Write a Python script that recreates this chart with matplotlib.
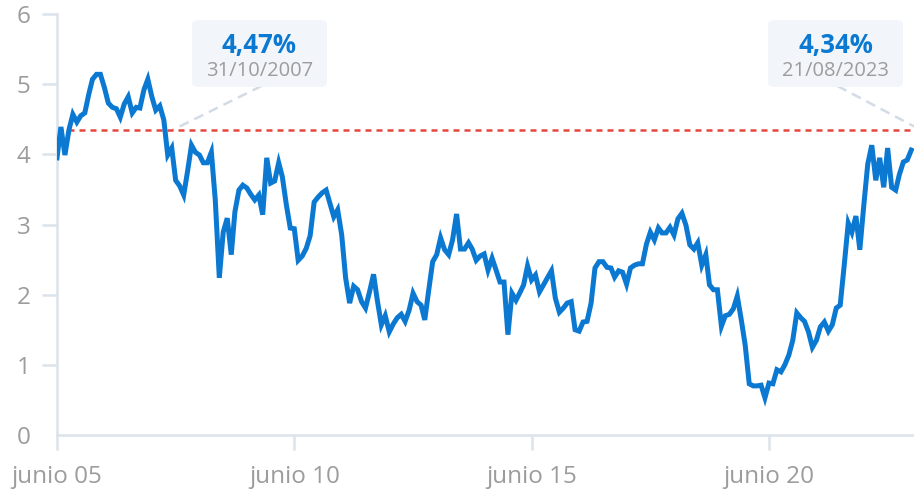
import matplotlib
matplotlib.use("Agg")
import matplotlib.pyplot as plt
import matplotlib.dates as mdates
from matplotlib.patches import FancyBboxPatch
import pandas as pd
import numpy as np

plt.rcParams['font.family'] = ['Open Sans', 'DejaVu Sans']

# Monthly yield (%) from June 2005
start_month = "2005-06-01"
yields = [
    3.95, 4.39, 3.99, 4.35, 4.57, 4.46, 4.55, 4.59, 4.86, 5.07,
    5.14, 5.14, 4.95, 4.73, 4.67, 4.65, 4.53, 4.72, 4.82, 4.59,
    4.67, 4.66, 4.92, 5.07, 4.82, 4.63, 4.69, 4.49, 3.99, 4.09,
    3.63, 3.55, 3.42, 3.75, 4.13, 4.03, 3.99, 3.88, 3.88, 4.03,
    3.35, 2.24, 2.89, 3.09, 2.57, 3.18, 3.49, 3.56, 3.52, 3.43,
    3.35, 3.42, 3.14, 3.95, 3.59, 3.62, 3.88, 3.68, 3.28, 2.95,
    2.94, 2.49, 2.55, 2.66, 2.84, 3.32, 3.39, 3.45, 3.49, 3.31,
    3.11, 3.21, 2.85, 2.24, 1.88, 2.12, 2.07, 1.90, 1.81, 2.04,
    2.29, 1.92, 1.57, 1.70, 1.47, 1.58, 1.67, 1.72, 1.62, 1.78,
    2.02, 1.90, 1.85, 1.64, 2.07, 2.47, 2.57, 2.81, 2.64, 2.57,
    2.78, 3.15, 2.65, 2.65, 2.74, 2.65, 2.49, 2.55, 2.58, 2.35,
    2.52, 2.35, 2.18, 2.18, 1.43, 2.02, 1.92, 2.02, 2.14, 2.41,
    2.21, 2.28, 2.04, 2.14, 2.24, 2.34, 1.95, 1.75, 1.81, 1.88,
    1.90, 1.50, 1.48, 1.61, 1.62, 1.88, 2.38, 2.47, 2.47, 2.39,
    2.38, 2.25, 2.34, 2.32, 2.15, 2.38, 2.42, 2.44, 2.44, 2.72,
    2.89, 2.78, 2.95, 2.88, 2.88, 2.96, 2.85, 3.08, 3.16, 2.99,
    2.71, 2.65, 2.74, 2.42, 2.57, 2.14, 2.07, 2.07, 1.55, 1.70,
    1.72, 1.80, 1.98, 1.64, 1.28, 0.73, 0.70, 0.70, 0.71, 0.53,
    0.74, 0.73, 0.93, 0.90, 1.00, 1.14, 1.35, 1.74, 1.67, 1.62,
    1.47, 1.25, 1.35, 1.54, 1.61, 1.48, 1.57, 1.81, 1.85, 2.42,
    3.02, 2.89, 3.12, 2.64, 3.28, 3.86, 4.13, 3.63, 3.95, 3.53,
    4.09, 3.53, 3.49, 3.71, 3.89, 3.92, 4.06,
]
threshold = 4.34
annot_values = ["4,47%", "4,34%"]
annot_dates = ["31/10/2007", "21/08/2023"]
annot_points = ["2007-10-31", "2023-08-21"]
tick_dates = ["2005-06-01", "2010-06-01", "2015-06-01", "2020-06-01"]
tick_labels = ["junio 05", "junio 10", "junio 15", "junio 20"]
y_ticks = [0, 1, 2, 3, 4, 5, 6]

dates = pd.date_range(start_month, periods=len(yields), freq="MS")

W, H = 914, 492
fig = plt.figure(figsize=(W / 100, H / 100), dpi=100)
ax = fig.add_axes([57 / W, 1 - 435 / H, 1 - 57 / W, (435 - 14) / H])

axis_col = "#dbe3eb"
lab_col = "#9c9c9c"
blue = "#0b79d1"

ax.plot(dates, yields, color=blue, lw=3.6, solid_joinstyle="miter", zorder=3)
ax.axhline(threshold, color="#e5473c", lw=1.8, ls=(0, (2.4, 2.0)), zorder=2)

ax.set_ylim(0, 6)
ax.set_xlim(pd.Timestamp(start_month), pd.Timestamp("2023-06-22"))

for s in ["top", "right"]:
    ax.spines[s].set_visible(False)
for s in ["left", "bottom"]:
    ax.spines[s].set_color(axis_col)
    ax.spines[s].set_linewidth(1.8)

ax.set_yticks(y_ticks)
ax.set_yticklabels([str(v) for v in y_ticks])
ax.set_xticks([pd.Timestamp(d) for d in tick_dates])
ax.set_xticklabels(tick_labels)
ax.tick_params(axis="y", length=11, width=1.8, color=axis_col, labelcolor=lab_col,
               labelsize=17.5, pad=8)
ax.tick_params(axis="x", length=10.5, width=1.8, color=axis_col, labelcolor=lab_col,
               labelsize=17.5, pad=11)
ax.yaxis.get_major_ticks()[0].tick1line.set_visible(False)

# annotation boxes (pixel layout)
def fx(x):
    return x / W

def fy(y):
    return 1 - y / H

boxes = [(192, 327), (768, 903)]
inv = ax.transData.inverted()
for (x0, x1), val, dt, pt in zip(boxes, annot_values, annot_dates, annot_points):
    p = FancyBboxPatch((fx(x0), fy(87)), fx(x1 - x0), (87 - 20) / H,
                       boxstyle="round,pad=0,rounding_size=0.008",
                       transform=fig.transFigure, facecolor="#f2f6fa",
                       edgecolor="none", zorder=5)
    fig.patches.append(p)
    cx = (x0 + x1) / 2
    fig.text(fx(cx), fy(46), val, ha="center", va="center", fontsize=18.5,
             fontweight="bold", color=blue, zorder=6)
    fig.text(fx(cx), fy(71), dt, ha="center", va="center", fontsize=14.5,
             color=lab_col, zorder=6)
    # connector from box bottom to the point
    bx, by = inv.transform((cx + 2, H - 86))
    ex = mdates.date2num(pd.Timestamp(pt))
    ax.plot([bx, ex], [by, threshold], color="#d3dce6", lw=1.8,
            ls=(0, (4, 2.5)), zorder=1, clip_on=False if pt < "2020" else True)

fig.savefig("out.png", dpi=100)
